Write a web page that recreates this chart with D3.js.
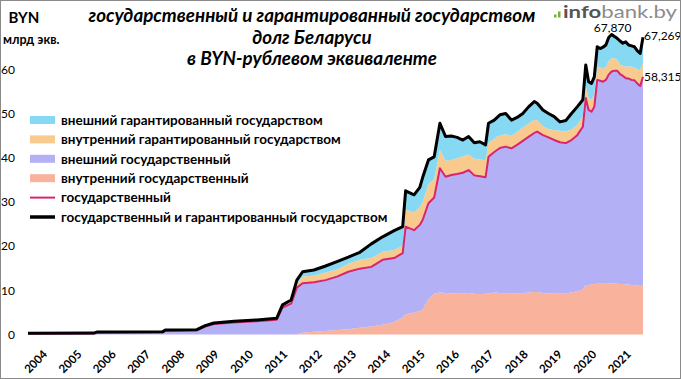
<!DOCTYPE html>
<html><head><meta charset="utf-8">
<script src="https://cdn.jsdelivr.net/npm/d3@7"></script>
<style>body{margin:0;background:#fff} svg{display:block} text{font-family:Lato,"Open Sans","Noto Sans",sans-serif}</style>
</head><body><svg id="c" width="681" height="379"></svg>
<script>
const dates = ["2004-01","2005-12","2006-01","2007-12","2008-01","2008-12","2009-03","2009-06","2010-01","2010-09",
"2011-04","2011-06","2011-09","2011-11","2012-01","2012-05","2012-09","2013-01","2013-05","2013-09",
"2014-01","2014-05","2014-09","2014-12","2015-01","2015-04","2015-06","2015-07","2015-09","2015-11",
"2016-01","2016-03","2016-05","2016-07","2016-09","2016-11","2017-01","2017-03","2017-05","2017-06",
"2017-08","2017-10","2017-12","2018-02","2018-04","2018-06","2018-08","2018-10","2018-11","2019-01",
"2019-03","2019-05","2019-07","2019-09","2019-11","2020-01","2020-03","2020-04","2020-05","2020-06",
"2020-07","2020-08","2020-09","2020-10","2020-11","2020-12","2021-01","2021-02","2021-03","2021-04",
"2021-05","2021-06","2021-07","2021-08","2021-09","2021-10","2021-11","2021-12"];
const domesticState = [0,0,0,0,0,0,0,0,0,0,
0,0,0,0,0.4,0.6,0.8,1.0,1.2,1.5,
1.8,2.2,2.8,3.8,4.5,5.0,5.3,5.6,8.0,9.2,
9.5,9.4,9.3,9.2,9.3,9.4,9.2,9.1,9.2,9.3,
9.5,9.4,9.3,9.2,9.3,9.4,9.5,9.6,9.6,9.4,
9.3,9.2,9.2,9.3,9.5,9.8,10.2,11.2,11.2,11.3,
11.4,11.5,11.5,11.5,11.5,11.6,11.6,11.5,11.5,11.4,
11.4,11.3,11.3,11.2,11.2,11.1,11.0,11.1];
const externalState = [0.20,0.22,0.45,0.50,0.85,0.95,1.80,2.35,2.70,3.00,
3.35,6.10,7.00,10.60,11.2,11.2,11.5,12.1,13.0,13.4,
13.5,14.7,14.5,14.6,19.9,18.6,19.5,20.3,21.7,21.8,
28.1,26.3,26.8,27.1,27.3,27.8,26.8,26.7,26.4,30.9,
31.8,32.8,33.2,32.9,33.6,34.4,35.2,36.0,36.3,35.7,
35.3,34.8,34.3,34.0,34.5,35.3,36.8,42.3,39.6,39.1,
40.1,46.1,45.9,45.7,46.1,47.2,47.9,48.2,48.2,47.5,
47.1,46.7,46.6,46.4,46.3,45.7,45.2,47.215];
const domesticGuaranteed = [0.05,0.05,0.05,0.05,0.08,0.08,0.10,0.10,0.15,0.15,
0.15,0.30,0.40,0.80,1.5,1.5,1.7,1.6,1.8,2.0,
2.0,1.8,1.8,1.7,3.8,4.0,4.0,4.1,4.3,4.2,
4.1,3.6,3.4,3.6,3.7,3.5,3.8,3.8,3.8,3.1,
3.0,2.9,2.8,2.8,2.9,3.0,3.0,3.0,2.6,2.0,
1.9,2.2,2.6,2.6,2.4,2.3,2.4,2.8,2.7,2.7,
2.8,3.0,3.0,3.0,3.0,3.0,3.0,2.8,2.5,2.2,
2.3,2.6,2.8,3.0,3.0,3.2,3.6,3.2];
const externalGuaranteed = [0.05,0.05,0.05,0.05,0.07,0.07,0.10,0.15,0.15,0.15,
0.20,0.30,0.40,0.90,1.1,1.3,1.5,1.8,1.5,1.7,
3.2,3.4,4.4,4.3,4.3,4.0,4.5,5.5,5.5,5.0,
6.1,5.5,5.4,4.7,3.7,4.1,3.6,4.0,3.5,4.5,
4.2,4.6,4.7,3.6,3.3,3.2,3.8,4.1,3.8,3.7,
3.5,3.1,2.0,2.5,3.6,4.1,3.7,4.7,3.7,3.7,
4.0,4.5,4.3,4.8,4.9,5.4,5.37,4.9,4.8,5.3,
5.1,5.6,4.8,4.7,4.6,4.2,3.8,5.754];
const yearLabels = ["2004","2005","2006","2007","2008","2009","2010","2011","2012","2013","2014","2015","2016","2017","2018","2019","2020","2021"];
const yTicks = [0,10,20,30,40,50,60];
const areaNames = ["внутренний государственный","внешний государственный","внутренний гарантированный государством","внешний гарантированный государством"];
const lineNames = ["государственный","государственный и гарантированный государством"];
const annotationLabels = ["67,870","67,269","58,315"];
const titleLines = ["государственный и гарантированный государством","долг Беларуси","в BYN-рублевом эквиваленте"];

const svg = d3.select("#c");
const W = 681, H = 379;
const parse = d3.timeParse("%Y-%m");
const rows = dates.map((d,i)=>({date:parse(d), ds:domesticState[i], es:externalState[i], dg:domesticGuaranteed[i], eg:externalGuaranteed[i]}));
const keys = ["ds","es","dg","eg"];
const colors = {ds:"#f9b29b", es:"#b3b0f6", dg:"#f8ca8e", eg:"#86d8f3"};

const x = d3.scaleTime().domain([parse("2004-01"), parse("2021-12")]).range([28, 643]);
const y = d3.scaleLinear().domain([0,60]).range([334.5, 69.3]);

const stack = d3.stack().keys(keys)(rows);
const area = d3.area().x(d=>x(d.data.date)).y0(d=>y(d[0])).y1(d=>y(d[1]));
svg.append("g").selectAll("path").data(stack).join("path")
  .attr("d", area).attr("fill", d=>colors[d.key]);

const stackLine = d3.line().x(d=>x(d.data.date)).y(d=>y(d[1]));
svg.append("path").datum(stack[1]).attr("d", stackLine).attr("fill","none").attr("stroke","#d8256c").attr("stroke-width",2).attr("stroke-linejoin","round");
svg.append("path").datum(stack[3]).attr("d", stackLine).attr("fill","none").attr("stroke","#000").attr("stroke-width",3).attr("stroke-linejoin","round");

// y axis labels
svg.append("g").selectAll("text").data(yTicks).join("text")
  .attr("x",15).attr("y",d=>y(d)).attr("dy","0.35em").attr("text-anchor","end")
  .attr("font-size",12).text(d=>d);

// x labels
svg.append("g").selectAll("text").data(yearLabels).join("text")
  .attr("transform", d=>`translate(${x(parse(d+"-01"))+20},355) rotate(-45)`)
  .attr("text-anchor","end").attr("font-size",11.5).attr("font-weight","bold").text(d=>d);

// title
svg.append("g").selectAll("text").data(titleLines).join("text")
  .attr("x",312).attr("y",(d,i)=>22+i*21.5).attr("text-anchor","middle")
  .attr("font-size",18.8).attr("font-weight","bold").attr("font-style","italic").text(d=>d);

svg.append("text").attr("x",24).attr("y",23).attr("text-anchor","middle").attr("font-size",15).attr("font-weight","bold").text("BYN");
svg.append("text").attr("x",3).attr("y",44).attr("font-size",12.5).attr("font-weight","bold").text("млрд экв.");

// logo
const logo = svg.append("g");
logo.append("rect").attr("x",554).attr("y",14.5).attr("width",2.5).attr("height",3).attr("fill","#6fb23f");
logo.append("rect").attr("x",558).attr("y",11.5).attr("width",2.5).attr("height",6).attr("fill","#6fb23f");
const lt = logo.append("text").attr("x",563).attr("y",17.5).attr("font-size",17.5)
  .attr("textLength",114).attr("lengthAdjust","spacingAndGlyphs");
lt.append("tspan").attr("fill","#555").attr("font-weight","bold").text("info");
lt.append("tspan").attr("fill","#8c8c8c").text("bank.by");

// legend
const legendItems = [
  {name: areaNames[3], type:"area", color: colors.eg},
  {name: areaNames[2], type:"area", color: colors.dg},
  {name: areaNames[1], type:"area", color: colors.es},
  {name: areaNames[0], type:"area", color: colors.ds},
  {name: lineNames[0], type:"line", color:"#d8256c", w:2},
  {name: lineNames[1], type:"line", color:"#000", w:3.5}
];
const lg = svg.append("g").selectAll("g").data(legendItems).join("g")
  .attr("transform",(d,i)=>`translate(0,${120+i*19.4})`);
lg.filter(d=>d.type==="area").append("rect").attr("x",30).attr("y",-4).attr("width",25).attr("height",8).attr("fill",d=>d.color);
lg.filter(d=>d.type==="line").append("line").attr("x1",30).attr("x2",55).attr("y1",0).attr("y2",0).attr("stroke",d=>d.color).attr("stroke-width",d=>d.w);
lg.append("text").attr("x",61).attr("dy","0.35em").attr("font-size",13.5).attr("font-weight","bold").text(d=>d.name);

// annotations
const last = stack[3][stack[3].length-1];
const lastS = stack[1][stack[1].length-1];
const maxPt = stack[3].reduce((a,b)=>b[1]>a[1]?b:a);
svg.append("text").attr("x",x(maxPt.data.date)+1).attr("y",y(maxPt[1])-2.5).attr("text-anchor","middle").attr("font-size",12).text(annotationLabels[0]);
svg.append("text").attr("x",x(last.data.date)+1).attr("y",y(last[1])+3).attr("font-size",12).text(annotationLabels[1]);
svg.append("text").attr("x",x(lastS.data.date)+1).attr("y",y(lastS[1])+4).attr("font-size",12).text(annotationLabels[2]);

svg.append("rect").attr("x",0.5).attr("y",0.5).attr("width",W-1).attr("height",H-1).attr("fill","none").attr("stroke","#8a8a8a");
</script></body></html>
